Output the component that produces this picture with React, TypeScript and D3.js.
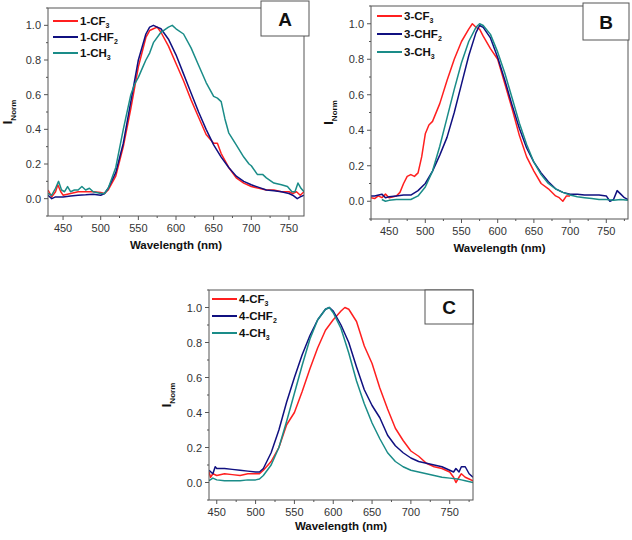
import React from "react";
import * as d3 from "d3";

// ---------- DATA ----------
// Panel A
const A_CF3_WL = [430,435,440,443,447,450,460,470,480,490,500,505,510,520,530,540,550,560,565,570,575,580,590,600,610,620,630,640,650,655,660,670,680,690,700,710,720,730,740,750,755,760,765,770];
const A_CF3_I = [0.05,0.01,0.04,0.08,0.04,0.02,0.03,0.04,0.04,0.04,0.035,0.03,0.05,0.13,0.30,0.52,0.76,0.93,0.97,0.98,0.99,0.96,0.88,0.78,0.68,0.57,0.47,0.37,0.32,0.32,0.26,0.18,0.12,0.09,0.07,0.06,0.05,0.05,0.04,0.04,0.03,0.04,0.02,0.04];
const A_CHF2_WL = [430,435,440,450,460,470,480,490,500,505,510,520,530,540,550,560,565,570,575,580,590,600,610,620,630,640,650,660,670,680,690,700,710,720,730,740,750,755,761,765,770];
const A_CHF2_I = [0.02,0.0,0.01,0.01,0.015,0.02,0.022,0.025,0.02,0.03,0.06,0.15,0.32,0.56,0.80,0.95,0.99,1.0,0.99,0.98,0.92,0.83,0.72,0.61,0.50,0.40,0.31,0.24,0.18,0.13,0.10,0.08,0.065,0.05,0.045,0.04,0.03,0.02,0.0,0.01,0.02];
const A_CH3_WL = [430,435,440,444,448,452,456,460,465,470,475,480,485,490,500,505,510,520,530,540,545,550,555,560,565,570,580,590,595,600,610,620,630,640,650,655,660,665,670,680,690,697,700,708,715,720,730,740,748,754,758,762,766,770];
const A_CH3_I = [0.03,0.02,0.06,0.10,0.05,0.04,0.07,0.04,0.05,0.05,0.07,0.05,0.06,0.04,0.03,0.03,0.06,0.18,0.40,0.60,0.66,0.70,0.75,0.80,0.84,0.90,0.96,0.99,1.0,0.98,0.95,0.87,0.77,0.67,0.59,0.58,0.56,0.46,0.38,0.31,0.24,0.20,0.19,0.14,0.14,0.12,0.09,0.08,0.07,0.04,0.04,0.09,0.06,0.04];

// Panel B
const B_CF3_WL = [425,430,435,440,445,450,460,465,470,475,480,485,490,495,500,505,510,520,530,540,550,560,565,570,575,580,590,600,610,620,630,640,650,660,670,680,685,690,695,700];
const B_CF3_I = [0.02,0.015,0.03,0.02,0.04,0.02,0.03,0.05,0.10,0.14,0.15,0.14,0.16,0.25,0.38,0.43,0.45,0.55,0.68,0.80,0.90,0.97,1.0,0.98,0.97,0.93,0.86,0.80,0.66,0.52,0.37,0.25,0.17,0.10,0.07,0.03,0.02,0.0,0.03,0.03];
const B_CHF2_WL = [425,430,440,445,450,460,470,480,490,500,510,520,530,540,550,560,570,575,580,590,600,610,620,630,640,650,660,670,680,690,700,710,720,730,740,750,755,760,765,770,775,780];
const B_CHF2_I = [0.03,0.03,0.04,0.02,0.025,0.03,0.035,0.035,0.06,0.10,0.17,0.26,0.36,0.50,0.66,0.82,0.95,0.99,0.98,0.92,0.81,0.68,0.54,0.41,0.30,0.22,0.16,0.11,0.07,0.05,0.04,0.04,0.035,0.035,0.035,0.03,0.0,0.01,0.06,0.04,0.02,0.01];
const B_CH3_WL = [440,445,450,460,470,480,490,500,510,520,530,540,550,560,570,575,580,590,600,610,620,630,640,650,660,670,680,690,700,710,720,730,740,750,760,770,780];
const B_CH3_I = [0.01,0.0,0.005,0.01,0.01,0.01,0.03,0.08,0.17,0.31,0.47,0.63,0.78,0.90,0.98,1.0,0.99,0.94,0.84,0.72,0.58,0.44,0.32,0.22,0.15,0.10,0.07,0.05,0.035,0.025,0.02,0.015,0.01,0.01,0.005,0.01,0.005];

// Panel C
const C_CF3_WL = [440,442,445,450,460,470,480,490,500,505,510,520,530,540,550,560,570,580,590,600,610,615,620,630,640,650,660,670,680,690,700,710,720,730,740,750,755,758,762,765,770,775,780];
const C_CF3_I = [0.06,0.03,0.05,0.04,0.05,0.045,0.04,0.05,0.05,0.05,0.07,0.12,0.20,0.33,0.40,0.52,0.65,0.77,0.87,0.93,0.98,1.0,0.99,0.92,0.78,0.68,0.54,0.42,0.31,0.24,0.18,0.15,0.11,0.09,0.08,0.06,0.03,0.0,0.03,0.05,0.03,0.02,0.01];
const C_CHF2_WL = [440,445,448,450,460,470,480,490,500,505,510,520,530,540,550,560,570,580,590,595,600,610,620,630,640,650,660,670,680,690,700,710,720,730,740,750,755,758,762,765,770,775,780];
const C_CHF2_I = [0.07,0.05,0.09,0.08,0.08,0.075,0.07,0.065,0.06,0.06,0.08,0.17,0.30,0.46,0.60,0.73,0.84,0.93,0.99,1.0,0.98,0.90,0.80,0.66,0.53,0.44,0.37,0.27,0.21,0.17,0.14,0.12,0.11,0.10,0.09,0.07,0.06,0.08,0.06,0.09,0.09,0.05,0.03];
const C_CH3_WL = [440,445,450,460,470,480,490,500,505,510,520,530,540,550,560,570,580,590,595,600,610,620,630,640,650,660,670,680,690,700,710,720,730,740,750,760,765,770,780];
const C_CH3_I = [0.01,0.025,0.015,0.01,0.01,0.01,0.015,0.015,0.02,0.04,0.10,0.20,0.35,0.51,0.67,0.82,0.93,0.99,1.0,0.97,0.88,0.74,0.58,0.45,0.34,0.25,0.17,0.12,0.09,0.07,0.06,0.05,0.04,0.03,0.025,0.02,0.015,0.01,0.0];

const X_TICKS = [450, 500, 550, 600, 650, 700, 750];
const Y_TICKS = [0.0, 0.2, 0.4, 0.6, 0.8, 1.0];
const Y_DOMAIN: [number, number] = [-0.1, 1.1];

const A_LABELS = ["1-CF", "1-CHF", "1-CH"];
const B_LABELS = ["3-CF", "3-CHF", "3-CH"];
const C_LABELS = ["4-CF", "4-CHF", "4-CH"];
const SUBS = ["3", "2", "3"];

const COLORS = ["#ff1f1f", "#101080", "#1a8c88"];
const FONT = "'Liberation Sans', Arial, sans-serif";

type Series = { wl: number[]; v: number[] };

type PanelProps = {
  left: number; top: number; right: number; bottom: number;
  xDomain: [number, number];
  series: Series[];
  labels: string[];
  letter: string;
  box: { x0: number; y0: number; x1: number; y1: number };
  legend: { x: number; ys: number[] };
  yTitleX: number;
  xTitleDy: number;
};

function Panel(p: PanelProps) {
  const x = d3.scaleLinear().domain(p.xDomain).range([p.left, p.right]);
  const y = d3.scaleLinear().domain(Y_DOMAIN).range([p.bottom, p.top]);
  const line = d3.line<[number, number]>().x(d => x(d[0])).y(d => y(d[1]));
  const minorX: number[] = [];
  for (let v = Math.ceil(p.xDomain[0] / 25) * 25; v <= p.xDomain[1]; v += 25) if (v % 50 !== 0) minorX.push(v);
  const minorY: number[] = [];
  for (let v = -0.1; v <= 1.1001; v += 0.2) minorY.push(+v.toFixed(1));
  return (
    <g>
      <clipPath id={"clip" + p.letter}>
        <rect x={p.left} y={p.top} width={p.right - p.left} height={p.bottom - p.top} />
      </clipPath>
      <g clipPath={`url(#clip${p.letter})`}>
        {p.series.map((s, i) => (
          <path key={i} d={line(s.wl.map((w, j) => [w, s.v[j]] as [number, number])) || ""}
            fill="none" stroke={COLORS[i]} strokeWidth={1.5} strokeLinejoin="round" />
        ))}
      </g>
      <rect x={p.left} y={p.top} width={p.right - p.left} height={p.bottom - p.top} fill="none" stroke="#555" strokeWidth={1} />
      {X_TICKS.map(t => (
        <g key={t}>
          <line x1={x(t)} x2={x(t)} y1={p.bottom} y2={p.bottom + 4} stroke="#555" />
          <text x={x(t)} y={p.bottom + 16} fontSize={11} fontFamily={FONT} fill="#333" textAnchor="middle">{t}</text>
        </g>
      ))}
      {minorX.map(t => (
        <line key={t} x1={x(t)} x2={x(t)} y1={p.bottom} y2={p.bottom + 2} stroke="#555" />
      ))}
      {Y_TICKS.map(t => (
        <g key={t}>
          <line x1={p.left - 4} x2={p.left} y1={y(t)} y2={y(t)} stroke="#555" />
          <text x={p.left - 7} y={y(t) + 4} fontSize={11} fontFamily={FONT} fill="#333" textAnchor="end">{t.toFixed(1)}</text>
        </g>
      ))}
      {minorY.map(t => (
        <line key={t} x1={p.left - 2} x2={p.left} y1={y(t)} y2={y(t)} stroke="#555" />
      ))}
      <text x={(p.left + p.right) / 2} y={p.bottom + p.xTitleDy} fontSize={11.5} fontWeight="bold" fontFamily={FONT} textAnchor="middle" fill="#111">Wavelength (nm)</text>
      <text transform={`translate(${p.yTitleX},${(p.top + p.bottom) / 2}) rotate(-90)`} fontSize={13} fontWeight="bold" fontFamily={FONT} textAnchor="middle" fill="#111">
        I<tspan fontSize={8} dy={4}>Norm</tspan>
      </text>
      {p.labels.map((l, i) => (
        <g key={l}>
          <line x1={p.legend.x} x2={p.legend.x + 25} y1={p.legend.ys[i]} y2={p.legend.ys[i]} stroke={COLORS[i]} strokeWidth={2} />
          <text x={p.legend.x + 27} y={p.legend.ys[i] + 4} fontSize={11.5} fontWeight="bold" fontFamily={FONT} fill="#111">
            {l}<tspan fontSize={7} dy={3}>{SUBS[i]}</tspan>
          </text>
        </g>
      ))}
      <rect x={p.box.x0} y={p.box.y0} width={p.box.x1 - p.box.x0} height={p.box.y1 - p.box.y0} fill="#fff" stroke="#555" strokeWidth={1} />
      <text x={(p.box.x0 + p.box.x1) / 2} y={(p.box.y0 + p.box.y1) / 2 + 7} fontSize={19} fontWeight="bold" fontFamily={FONT} textAnchor="middle" fill="#111">{p.letter}</text>
    </g>
  );
}

export default function App() {
  return (
    <svg width={632} height={540} style={{ position: "absolute", left: 0, top: 0, background: "#fff" }}>
      <rect width={632} height={540} fill="#fff" />
      <Panel left={48} top={8} right={304} bottom={216} xDomain={[430, 770]}
        series={[{ wl: A_CF3_WL, v: A_CF3_I }, { wl: A_CHF2_WL, v: A_CHF2_I }, { wl: A_CH3_WL, v: A_CH3_I }]}
        labels={A_LABELS} letter="A" box={{ x0: 261, y0: 1, x1: 309, y1: 36 }}
        legend={{ x: 53, ys: [21, 37, 53] }} yTitleX={12} xTitleDy={33} />
      <Panel left={371} top={6} right={628} bottom={219} xDomain={[425, 780]}
        series={[{ wl: B_CF3_WL, v: B_CF3_I }, { wl: B_CHF2_WL, v: B_CHF2_I }, { wl: B_CH3_WL, v: B_CH3_I }]}
        labels={B_LABELS} letter="B" box={{ x0: 583, y0: 3, x1: 629, y1: 40 }}
        legend={{ x: 377, ys: [16, 34, 52] }} yTitleX={333} xTitleDy={33} />
      <Panel left={209} top={290} right={473} bottom={500} xDomain={[440, 780]}
        series={[{ wl: C_CF3_WL, v: C_CF3_I }, { wl: C_CHF2_WL, v: C_CHF2_I }, { wl: C_CH3_WL, v: C_CH3_I }]}
        labels={C_LABELS} letter="C" box={{ x0: 425, y0: 290, x1: 473, y1: 324 }}
        legend={{ x: 212, ys: [299, 316, 333] }} yTitleX={171} xTitleDy={30} />
    </svg>
  );
}
